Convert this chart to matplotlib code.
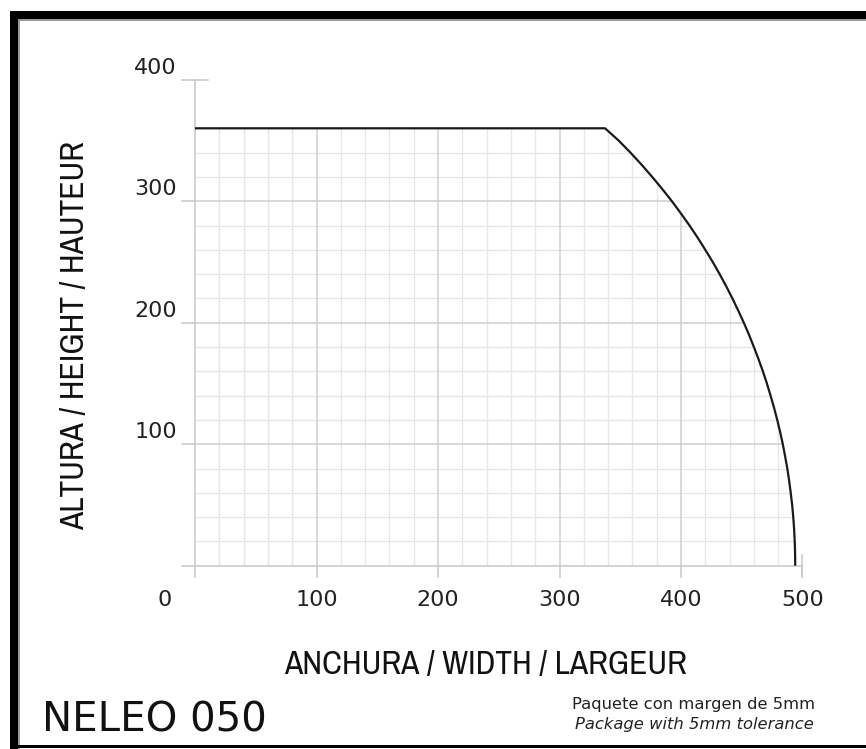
import numpy as np
import matplotlib
matplotlib.use("Agg")
import matplotlib.pyplot as plt
from matplotlib.patches import Polygon, Rectangle
from matplotlib.collections import LineCollection

# outline of the usable area (mm)
top_height = 360
curve_y = [360, 350, 340, 330, 320, 310, 300, 290, 280, 270, 260, 250, 240, 230,
           220, 210, 200, 190, 180, 170, 160, 150, 140, 130, 120, 110, 100, 90,
           80, 70, 60, 50, 40, 30, 20, 10, 0]
curve_x = [337.5, 348.6, 358.4, 367.6, 376.3, 384.6, 392.5, 399.9, 407.0, 413.7,
           420.0, 426.1, 431.8, 437.2, 442.3, 447.1, 451.7, 456.0, 460.0, 463.8,
           467.4, 470.7, 473.7, 476.6, 479.2, 481.6, 483.8, 485.7, 487.5, 489.0,
           490.3, 491.5, 492.4, 493.1, 493.6, 493.9, 494.0]

x_ticks = [0, 100, 200, 300, 400, 500]
y_ticks = [100, 200, 300, 400]
minor_step = 20

title = "NELEO 050"
xlabel = "ANCHURA / WIDTH / LARGEUR"
ylabel = "ALTURA / HEIGHT / HAUTEUR"
note1 = "Paquete con margen de 5mm"
note2 = "Package with 5mm tolerance"

W, H = 866, 749
fig = plt.figure(figsize=(W / 100, H / 100), dpi=100)
ax = fig.add_axes([0, 0, 1, 1])
ax.axis('off')
# pixel mapping: x=0 at 195px, y=0 at 565.7px from top, ~1.215 px per mm
sx = 1.215
ax.set_xlim(-195 / sx, (W - 195) / sx)
ax.set_ylim(-(H - 565.7) / sx, 565.7 / sx)

narrow = ['Liberation Sans Narrow', 'Archivo Narrow', 'Liberation Sans', 'DejaVu Sans']
minor_c = '#e6e6e6'
major_c = '#cfcfcf'
axis_c = '#c8c8c8'

# clip region
outline = [(0, 0), (0, top_height)] + list(zip(curve_x, curve_y)) + [(0, 0)]
clip = Polygon(outline, closed=True, facecolor='none', edgecolor='none')
ax.add_patch(clip)

segs_minor, segs_major = [], []
for x in np.arange(minor_step, 500, minor_step):
    (segs_major if x % 100 == 0 else segs_minor).append([(x, 0), (x, top_height)])
for y in np.arange(minor_step, top_height, minor_step):
    (segs_major if y % 100 == 0 else segs_minor).append([(0, y), (500, y)])
lc1 = LineCollection(segs_minor, colors=minor_c, linewidths=1.0)
lc2 = LineCollection(segs_major, colors=major_c, linewidths=1.1)
for lc in (lc1, lc2):
    ax.add_collection(lc)
    lc.set_clip_path(clip)

# axes lines and ticks
ax.plot([0, 0], [-9, 400], color=axis_c, lw=1.1)
ax.plot([-11, 500], [0, 0], color=axis_c, lw=1.1)
for x in x_ticks[1:]:
    ax.plot([x, x], [-9, 0], color=axis_c, lw=1.1)
ax.plot([500, 500], [-9, 9], color=axis_c, lw=1.1)
for y in y_ticks:
    ax.plot([-11, 0], [y, y], color=axis_c, lw=1.1)
ax.plot([0, 11], [400, 400], color=axis_c, lw=1.1)

# outline
ax.plot([0] + curve_x, [top_height] + curve_y, color='#1a1a1a', lw=1.6,
        solid_capstyle='butt', solid_joinstyle='round')

# tick labels
for y in y_ticks:
    ax.text(-15, y + 10, str(y), ha='right', va='center', fontsize=16,
            color='#222222', family='DejaVu Sans')
for x in x_ticks:
    xx = -25 if x == 0 else x
    ax.text(xx, -28, str(x), ha='center', va='center', fontsize=16,
            color='#222222', family='DejaVu Sans')

ax.text((485.5 - 195) / sx, (565.7 - 665) / sx, xlabel, ha='center', va='center',
        fontsize=24, family=narrow, color='#111111')
ax.text((75 - 195) / sx, (565.7 - 335) / sx, ylabel, ha='center', va='center',
        rotation=90, fontsize=24, family=narrow, color='#111111')
ax.text((154 - 195) / sx, (565.7 - 721) / sx, title, ha='center', va='center',
        fontsize=29, family='DejaVu Sans', color='#111111')
ax.text((694 - 195) / sx, (565.7 - 705) / sx, note1, ha='center', va='center',
        fontsize=11.8, family='DejaVu Sans', color='#222222')
ax.text((694 - 195) / sx, (565.7 - 725) / sx, note2, ha='center', va='center',
        fontsize=11.8, family='DejaVu Sans', style='italic', color='#222222')

# frame of the sheet (pixel based)
def px_rect(x0, y0, x1, y1, color):
    fig.add_artist(Rectangle((x0 / W, 1 - y1 / H), (x1 - x0) / W, (y1 - y0) / H,
                             transform=fig.transFigure, facecolor=color,
                             edgecolor='none'))

px_rect(10, 11, W, 19, 'black')
px_rect(18, 19, W, 21, '#9a9a9a')
px_rect(10, 11, 18, H, 'black')
px_rect(18, 21, 20, H, '#9a9a9a')
px_rect(10, 745, W, 748, 'black')

fig.savefig('out.png', dpi=100, facecolor='white')
